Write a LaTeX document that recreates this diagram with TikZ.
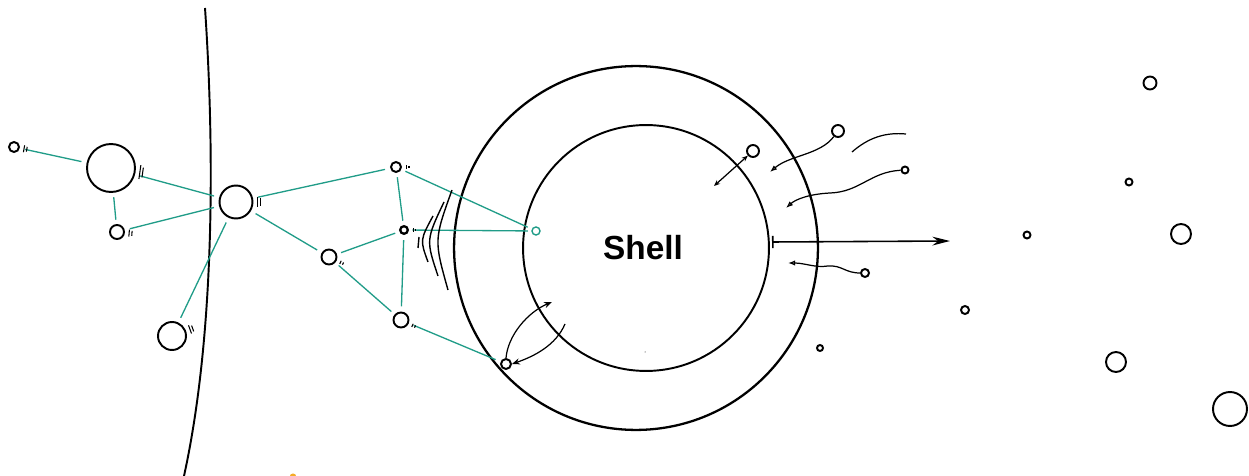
\documentclass[tikz,border=0pt]{standalone}
\usepackage{fontspec}
\setmainfont{Liberation Sans}
\usetikzlibrary{arrows.meta,calc}
\definecolor{tealink}{RGB}{32,156,136}
\definecolor{speck}{RGB}{245,172,40}
% two small strokes beside a ring: node, canvas angle, stroke half-length
\newcommand\scr[3]{%
  \draw[scratchy] ($(#1.#2)+(#2:2.4pt)+(#2+90:#3)$) -- ($(#1.#2)+(#2:2.4pt)+(#2-90:#3)$);
  \draw[scratchy] ($(#1.#2)+(#2:4pt)+(#2+90:0.7*#3)$) -- ($(#1.#2)+(#2:4pt)+(#2-90:0.7*#3)$);}
\tikzset{
  sh/.tip={Stealth[length=4.5pt,width=3.5pt]},
  ssh/.tip={Stealth[length=3.5pt,width=2.8pt]},
  oh/.tip={Latex[open,length=4pt,width=3pt]}}
\begin{document}
\begin{tikzpicture}[x=0.02cm,y=-0.02cm,
  ring/.style={circle,draw,line width=1.1pt,inner sep=0pt,minimum size={#1*0.04cm}},
  shellring/.style={circle,draw,inner sep=0pt,minimum size={#1*0.04cm}},
  tl/.style={draw=tealink,line width=0.75pt,shorten <=#1,shorten >=#1},
  tl/.default=3pt,
  scratchy/.style={line width=0.6pt},
  wave/.style={line width=0.8pt},
  thinarrow/.style={line width=0.7pt}]
\useasboundingbox (0,0) rectangle (1249,476);

% boundary curve
\draw[line width=1.1pt] (205,8) .. controls (214,140) and (216,330) .. (184,476);

% shell
\node[shellring=182,line width=1.3pt] (outer) at (636,248) {};
\node[shellring=123,line width=1.1pt] (inner) at (646,248) {};
\node[font=\bfseries\fontsize{19}{22}\selectfont] (label) at (643,248) {Shell};
\fill (645,352) circle[radius=0.5];

% network on the left
\node[ring=5]  (A) at (14,147) {};
\node[ring=24] (B) at (111,168) {};
\node[ring=7]  (C) at (117,232) {};
\node[ring=16.5] (D) at (236,202) {};
\node[ring=14] (E) at (172,336) {};
\node[ring=5]  (F) at (396,167) {};
\node[ring=3.8,line width=1.3pt] (G) at (404,230) {};
\node[ring=7.5] (H) at (329,257) {};
\node[ring=7.5] (I) at (401,320) {};
\node[ring=5]  (J) at (506,364) {};
\node[circle,draw=tealink,line width=0.8pt,inner sep=0pt,minimum size={4*0.04cm}] (K) at (536,231) {};

\draw[tl=3pt] (A) -- (B);
\draw[tl=2.5pt] (B) -- (C);
\draw[tl=3pt] (B) -- (D);
\draw[tl=3pt] (C) -- (D);
\draw[tl=3pt] (D) -- (E);
\draw[tl=3pt] (D) -- (F);
\draw[tl=3pt] (D) -- (H);
\draw[tl=2.5pt] (F) -- (G);
\draw[tl=2.5pt] (F) -- (K);
\draw[tl=2pt] (G) -- (K);
\draw[tl=2.5pt] (H) -- (G);
\draw[tl=2.5pt] (H) -- (I);
\draw[tl=3pt] (G) -- (I);
\draw[tl=3pt] (I) -- (J);

\scr{A}{-10}{2pt}
\scr{B}{-8}{4pt}
\scr{C}{-5}{2pt}
\scr{D}{0}{3pt}
\scr{E}{20}{2.5pt}
\scr{F}{0}{1pt}
\scr{G}{0}{1pt}
\scr{H}{-25}{1pt}
\scr{I}{-25}{1pt}

% waves between the network and the shell
\draw[wave] (452,190) .. controls (434,240) .. (448,290);
\draw[wave] (444,202) .. controls (426,240) .. (438,276);
\draw[wave] (433,216) .. controls (420,240) .. (428,262);
\draw[wave] (419,237) -- (418,248);

% arrows at the lower left of the shell
\coordinate (up) at (552,302);
\coordinate (back) at (565,324);
\draw[thinarrow,-{sh}] (J.north) .. controls (508,335) and (528,312) .. (up);
\draw[thinarrow,-{sh}] (back) .. controls (556,345) and (535,356) .. (J.east);

% particles and arrows on the right of the shell
\node[ring=6] (L) at (753,151) {};
\node[ring=6] (M) at (838,131) {};
\node[ring=3.5] (N) at (905,170) {};
\node[ring=4] (O) at (865,273) {};
\coordinate (lin) at (714,186);
\coordinate (min) at (770,172);
\coordinate (nin) at (786,208);
\coordinate (oin) at (788,263);
\coordinate (ws) at (852,152);
\coordinate (we) at (906,134);
\coordinate (bs) at (772,242);
\coordinate (be) at (950,241);

\draw[thinarrow,{ssh}-{ssh}] (lin) -- (L);
\draw[thinarrow,-{oh}] (M) .. controls (820,155) and (790,155) .. (min);
\draw[thinarrow] (ws) .. controls (868,138) and (885,132) .. (we);
\draw[thinarrow,-{oh}] (N) .. controls (870,172) and (860,192) .. (830,193)
   .. controls (810,194) and (796,199) .. (nin);
\draw[thinarrow,-{oh}] (O) .. controls (845,273) and (842,265) .. (828,266)
   .. controls (815,268) and (805,263) .. (oin);
\draw[line width=0.9pt,{Bar[width=7pt]}-{Stealth[length=10pt,width=5pt]}] (bs) -- (be);

% scattered particles far right
\node[ring=6.5] (p1) at (1150,83) {};
\node[ring=3.5] (p2) at (1129,182) {};
\node[ring=3.5] (p3) at (1027,235) {};
\node[ring=10]  (p4) at (1181,234) {};
\node[ring=4]   (p5) at (965,310) {};
\node[ring=3]   (p6) at (820,348) {};
\node[ring=10]  (p7) at (1116,362) {};
\node[ring=17]  (p8) at (1230,409) {};

% small speck at the bottom edge
\fill[speck] (293,476) ellipse[x radius=3, y radius=2.5];
\end{tikzpicture}
\end{document}
